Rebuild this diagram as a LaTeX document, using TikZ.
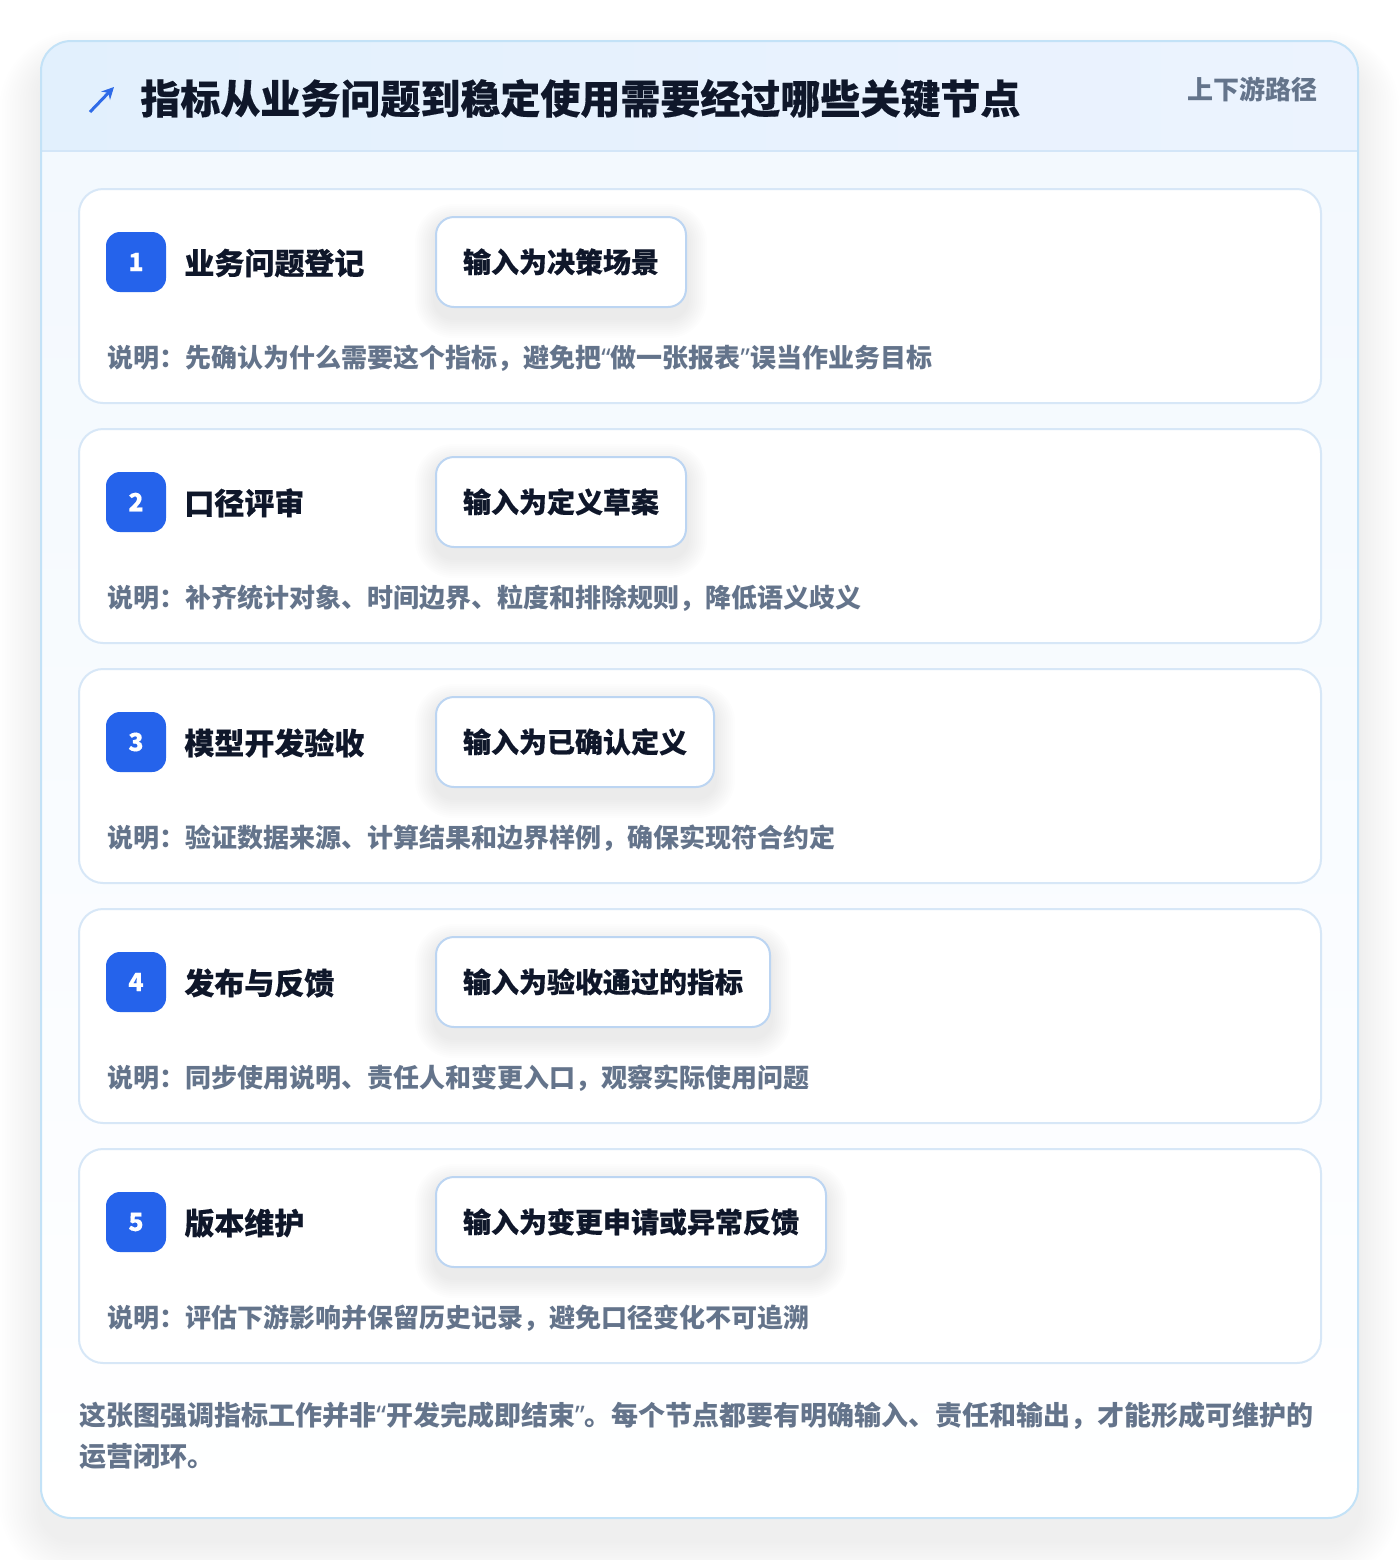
\documentclass[tikz,border=0pt]{standalone}
\usepackage{fontspec}
\setmainfont{Noto Sans CJK SC}
\newfontfamily\heavyf{Noto Sans CJK SC}[BoldFeatures={FakeBold=0.35}]
\newfontfamily\quotef{Noto Sans}
\newcommand\myql{{\quotef\bfseries “}}
\newcommand\myqr{{\quotef\bfseries ”}}
\usetikzlibrary{arrows.meta}
\pgfdeclarelayer{back}
\pgfdeclarelayer{cardl}
\pgfdeclarelayer{shadowl}
\pgfsetlayers{back,cardl,shadowl,main}
\definecolor{ink}{HTML}{0F172A}
\definecolor{mute}{HTML}{64748B}
\definecolor{badgec}{HTML}{2563EB}
\definecolor{iconc}{HTML}{2F6BE8}
\definecolor{outerb}{HTML}{C3E2F7}
\definecolor{cardb}{HTML}{D7E7F7}
\definecolor{boxb}{HTML}{BCD5F2}
\definecolor{hdrL}{HTML}{E2F0FD}
\definecolor{hdrR}{HTML}{ECF3FE}
\definecolor{hdrline}{HTML}{D3E6F8}
\definecolor{bodyT}{HTML}{F2F8FE}
\tikzset{
  card/.style={draw=cardb, fill=white, line width=1pt, rounded corners=12pt},
  badge/.style={fill=badgec, rounded corners=7pt, minimum size=30pt, inner sep=0pt,
    text=white, font=\heavyf\bfseries\fontsize{12.5}{12.5}\selectfont},
  steptitle/.style={anchor=base west, inner sep=0pt, text=ink, font=\heavyf\bfseries\fontsize{15}{15}\selectfont},
  inbox/.style={draw=boxb, fill=white, line width=1pt, rounded corners=9pt, anchor=west,
    minimum height=45pt, inner xsep=13.5pt, inner ysep=0pt, text height=12.3pt, text depth=1.7pt,
    text=ink, font=\heavyf\bfseries\fontsize{14}{14}\selectfont},
  shadowlayer/.style={fill=black, opacity=#1},
  desc/.style={anchor=base west, inner sep=0pt, text=mute, font=\bfseries\fontsize{13}{13}\selectfont},
  foot/.style={anchor=base west, inner sep=0pt, text=mute, font=\bfseries\fontsize{13.5}{13.5}\selectfont},
  titlef/.style={anchor=base west, inner sep=0pt, text=ink, font=\heavyf\bfseries\fontsize{20}{20}\selectfont},
  tagf/.style={anchor=base east, inner sep=0pt, text=mute, font=\bfseries\fontsize{13}{13}\selectfont},
}
\begin{document}
\begin{tikzpicture}[x=0.5pt,y=-0.5pt]
\useasboundingbox (0,0) rectangle (1400,1560);
\begin{pgfonlayer}{back}
\fill[white] (0,0) rectangle (1400,1560);
% outer shadow
\foreach \i in {1,...,16}{
  \fill[shadowlayer=0.0042, rounded corners={15pt+\i*1.5pt}] (41-\i*2.6,41-\i*2+22) rectangle (1358+\i*2.6,1518+\i*2.6+22);
}
% outer card
\fill[white, rounded corners=15pt] (41,41) rectangle (1358,1518);
\shade[rounded corners=15pt, top color=bodyT, bottom color=white] (41,41) rectangle (1358,1518);
\begin{scope}
  \clip[rounded corners=15pt] (41,41) rectangle (1358,1518);
  \shade[left color=hdrL, right color=hdrR] (41,41) rectangle (1358,151);
\end{scope}
\draw[hdrline, line width=1pt] (41,151) -- (1358,151);
\draw[outerb, line width=1pt, rounded corners=15pt] (41,41) rectangle (1358,1518);
\end{pgfonlayer}
% header
\coordinate (icA) at (90,112);
\coordinate (icB) at (114,87);
\draw[iconc, line width=1.5pt, -{Stealth[length=6pt,width=6pt]}] (icA) -- (icB);
\node[titlef] (title) at (140,113.7) {指标从业务问题到稳定使用需要经过哪些关键节点};
\node[tagf] (tag) at (1318,99.4) {上下游路径};
% steps
\foreach \n/\ttl/\inp/\dsc in {
  1/业务问题登记/输入为决策场景/说明：先确认为什么需要这个指标，避免把\myql 做一张报表\myqr 误当作业务目标,
  2/口径评审/输入为定义草案/说明：补齐统计对象、时间边界、粒度和排除规则，降低语义歧义,
  3/模型开发验收/输入为已确认定义/说明：验证数据来源、计算结果和边界样例，确保实现符合约定,
  4/发布与反馈/输入为验收通过的指标/说明：同步使用说明、责任人和变更入口，观察实际使用问题,
  5/版本维护/输入为变更申请或异常反馈/说明：评估下游影响并保留历史记录，避免口径变化不可追溯}{
  \pgfmathsetmacro\yo{240*(\n-1)}
  \begin{pgfonlayer}{cardl}
    \path[card] (79,189+\yo) rectangle (1321,403+\yo);
  \end{pgfonlayer}
  \node[badge] (badge\n) at (136,262+\yo) {\n};
  \node[steptitle] (title\n) at (184,274.4+\yo) {\ttl};
  \node[inbox] (in\n) at (435,262+\yo) {\inp};
  \node[desc] (desc\n) at (107,367+\yo) {\dsc};
  \begin{pgfonlayer}{shadowl}
    \foreach \i in {1,...,10}{
      \fill[shadowlayer=0.007, rounded corners={9pt+\i*1pt}]
        ([xshift={-\i*1pt}, yshift={(\i-4)*1pt}]in\n.north west) rectangle
        ([xshift={\i*1pt}, yshift={-(\i+5)*1pt}]in\n.south east);
    }
  \end{pgfonlayer}
}
% footer
\node[foot] (foot1) at (79,1425) {这张图强调指标工作并非\myql 开发完成即结束\myqr 。每个节点都要有明确输入、责任和输出，才能形成可维护的};
\node[foot] (foot2) at (79,1466) {运营闭环。};
\end{tikzpicture}
\end{document}
